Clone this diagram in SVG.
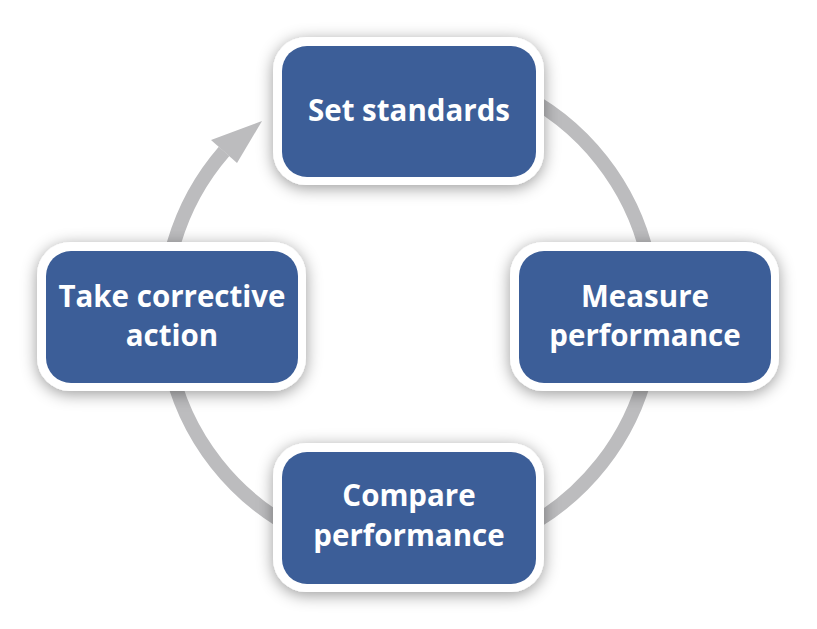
<svg xmlns="http://www.w3.org/2000/svg" width="817" height="629" viewBox="0 0 817 629">
<defs>
<filter id="sh" x="-20%" y="-30%" width="140%" height="160%">
<feDropShadow dx="0" dy="3" stdDeviation="8" flood-color="#000" flood-opacity="0.4"/>
</filter>
<style>
.outer{fill:#fff;filter:url(#sh)}
.inner{fill:#3c5e98}
.lbl{font-family:"Open Sans","Liberation Sans",sans-serif;font-weight:700;font-size:29.5px;fill:#fff;text-anchor:middle}
.ring{fill:none;stroke:#bcbcbe;stroke-width:14}
</style>
</defs>
<rect width="817" height="629" fill="#fff"/>
<g id="connectors">
<path class="ring" d="M409 67 A245 245 0 1 1 224.1 151.3"/>
<polygon points="262,121 211,140 237,163" fill="#bcbcbe"/>
</g>
<g id="set-standards">
<rect class="outer" x="273" y="37" width="271" height="148" rx="33"/>
<rect class="inner" x="282" y="46" width="254" height="131" rx="25"/>
<text class="lbl" x="409" y="121">Set standards</text>
</g>
<g id="measure-performance">
<rect class="outer" x="510" y="242" width="269" height="149" rx="33"/>
<rect class="inner" x="519" y="251" width="252" height="132" rx="25"/>
<text class="lbl" x="645" y="307">Measure</text>
<text class="lbl" x="645" y="346">performance</text>
</g>
<g id="compare-performance">
<rect class="outer" x="273" y="443" width="271" height="149" rx="33"/>
<rect class="inner" x="282" y="452" width="254" height="132" rx="25"/>
<text class="lbl" x="409" y="506">Compare</text>
<text class="lbl" x="409" y="546">performance</text>
</g>
<g id="take-corrective-action">
<rect class="outer" x="37" y="242" width="269" height="149" rx="33"/>
<rect class="inner" x="46" y="251" width="252" height="132" rx="25"/>
<text class="lbl" x="172" y="307">Take corrective</text>
<text class="lbl" x="172" y="346">action</text>
</g>
</svg>
